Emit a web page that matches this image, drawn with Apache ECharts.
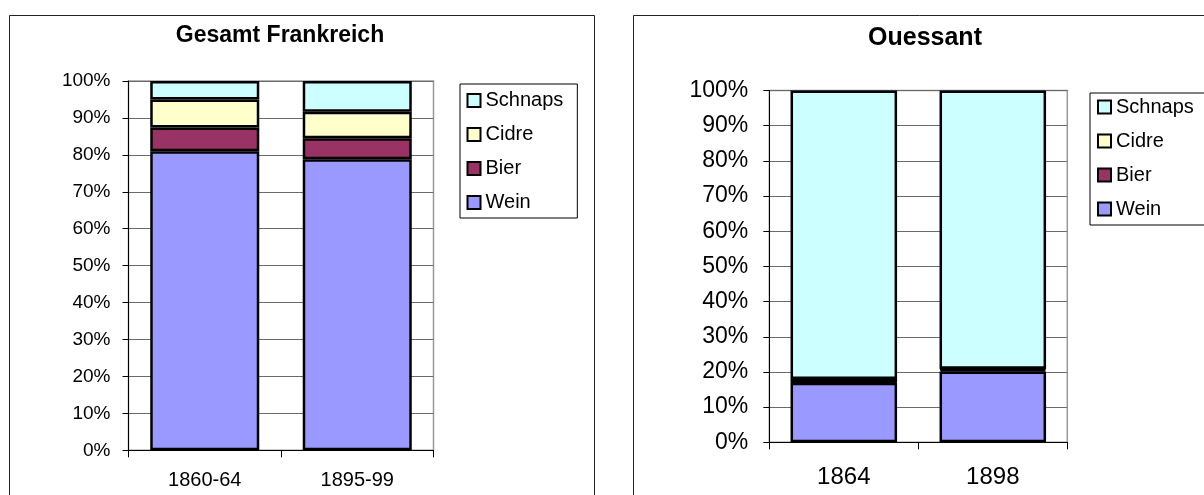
<!DOCTYPE html>
<html>
<head>
<meta charset="utf-8">
<script src="https://cdn.jsdelivr.net/npm/echarts@6/dist/echarts.min.js"></script>
<style>
  html, body { margin: 0; padding: 0; background: #fff; }
  #chart { width: 1204px; height: 495px; }
</style>
</head>
<body>
<div id="chart"></div>
<script>
// ---- Data ----
const seriesNames = ['Wein', 'Bier', 'Cidre', 'Schnaps'];
const legendOrder = ['Schnaps', 'Cidre', 'Bier', 'Wein'];
const yTickValues = [0, 10, 20, 30, 40, 50, 60, 70, 80, 90, 100];

// Gesamt Frankreich (% of consumption)
const frCategories = ['1860-64', '1895-99'];
const frWein    = [81.0, 78.8];
const frBier    = [6.4, 5.7];
const frCidre   = [7.6, 7.2];
const frSchnaps = [5.0, 8.3];

// Ouessant (% of consumption)
const ouCategories = ['1864', '1898'];
const ouWein    = [16.9, 20.1];
const ouBier    = [0.2, 0.6];
const ouCidre   = [0.9, 0.2];
const ouSchnaps = [82.0, 79.1];

const colors = { Wein: '#9999FF', Bier: '#993366', Cidre: '#FFFFCC', Schnaps: '#CCFFFF' };
const FONT = '"Liberation Sans", Arial, sans-serif';

const chart = echarts.init(document.getElementById('chart'), null, { renderer: 'canvas' });

function mkX(idx, cats, fs, margin) {
  return {
    type: 'category', gridIndex: idx, data: cats,
    boundaryGap: true,
    axisLine: { show: true, lineStyle: { color: '#000', width: 1 } },
    axisTick: { show: true, length: 7, alignWithLabel: false, lineStyle: { color: '#000' } },
    axisLabel: { fontSize: fs, color: '#000', fontFamily: FONT, margin: margin }
  };
}
function mkY(idx, fs, margin) {
  return {
    type: 'value', gridIndex: idx, min: yTickValues[0], max: yTickValues[yTickValues.length - 1],
    interval: yTickValues[1] - yTickValues[0],
    axisLine: { show: true, lineStyle: { color: '#000', width: 1 } },
    axisTick: { show: true, length: 6, lineStyle: { color: '#000' } },
    axisLabel: { fontSize: fs, color: '#000', fontFamily: FONT, margin: margin, formatter: '{value}%' },
    splitLine: { show: true, lineStyle: { color: '#6a6a6a', width: 1 } }
  };
}
function mkSeries(name, data, idx, stack) {
  return {
    name: name, type: 'bar', stack: stack, data: data,
    xAxisIndex: idx, yAxisIndex: idx,
    barCategoryGap: '28.5%',
    itemStyle: { color: colors[name], borderColor: '#000', borderWidth: 2.5 },
    emphasis: { disabled: true },
    animation: false
  };
}
function mkLegend(left, top, padding) {
  return {
    orient: 'vertical', left: left, top: top, padding: padding,
    data: legendOrder, icon: 'rect', itemWidth: 13, itemHeight: 13, itemGap: 14,
    borderColor: '#000', borderWidth: 1, backgroundColor: '#fff',
    selectedMode: false,
    itemStyle: { borderColor: '#000', borderWidth: 2 },
    textStyle: { fontSize: 20, lineHeight: 20, color: '#000', fontFamily: FONT }
  };
}

const frData = { Wein: frWein, Bier: frBier, Cidre: frCidre, Schnaps: frSchnaps };
const ouData = { Wein: ouWein, Bier: ouBier, Cidre: ouCidre, Schnaps: ouSchnaps };

const option = {
  backgroundColor: '#fff',
  animation: false,
  textStyle: { fontFamily: FONT },
  graphic: [
    { type: 'rect', shape: { x: 9.5, y: 15.5, width: 585, height: 500 }, style: { fill: 'none', stroke: '#222', lineWidth: 1 }, z: -10, silent: true },
    { type: 'rect', shape: { x: 633.5, y: 15.5, width: 600, height: 500 }, style: { fill: 'none', stroke: '#222', lineWidth: 1 }, z: -10, silent: true }
  ],
  title: [
    { text: 'Gesamt Frankreich', left: 280, top: 36, textAlign: 'center', textVerticalAlign: 'middle', padding: 0,
      textStyle: { fontSize: 23, fontWeight: 'bold', color: '#000', fontFamily: FONT } },
    { text: 'Ouessant', left: 925, top: 38.5, textAlign: 'center', textVerticalAlign: 'middle', padding: 0,
      textStyle: { fontSize: 25, fontWeight: 'bold', color: '#000', fontFamily: FONT } }
  ],
  legend: [
    mkLegend(460, 84, [6.5, 14, 5.5, 6.5]),
    mkLegend(1090, 93, [4, 30, 6, 7])
  ],
  grid: [
    { left: 128.5, top: 81, width: 305, height: 369.3, show: true, borderColor: '#999', borderWidth: 1.5, backgroundColor: 'transparent', containLabel: false },
    { left: 769.3, top: 90.5, width: 298, height: 351.8, show: true, borderColor: '#999', borderWidth: 1.5, backgroundColor: 'transparent', containLabel: false }
  ],
  xAxis: [ mkX(0, frCategories, 20, 20), mkX(1, ouCategories, 24, 23) ],
  yAxis: [ mkY(0, 19, 18), mkY(1, 23, 21) ],
  series: [
    ...seriesNames.map(n => mkSeries(n, frData[n], 0, 'fr')),
    ...seriesNames.map(n => mkSeries(n, ouData[n], 1, 'ou'))
  ]
};
chart.setOption(option);
</script>
</body>
</html>
